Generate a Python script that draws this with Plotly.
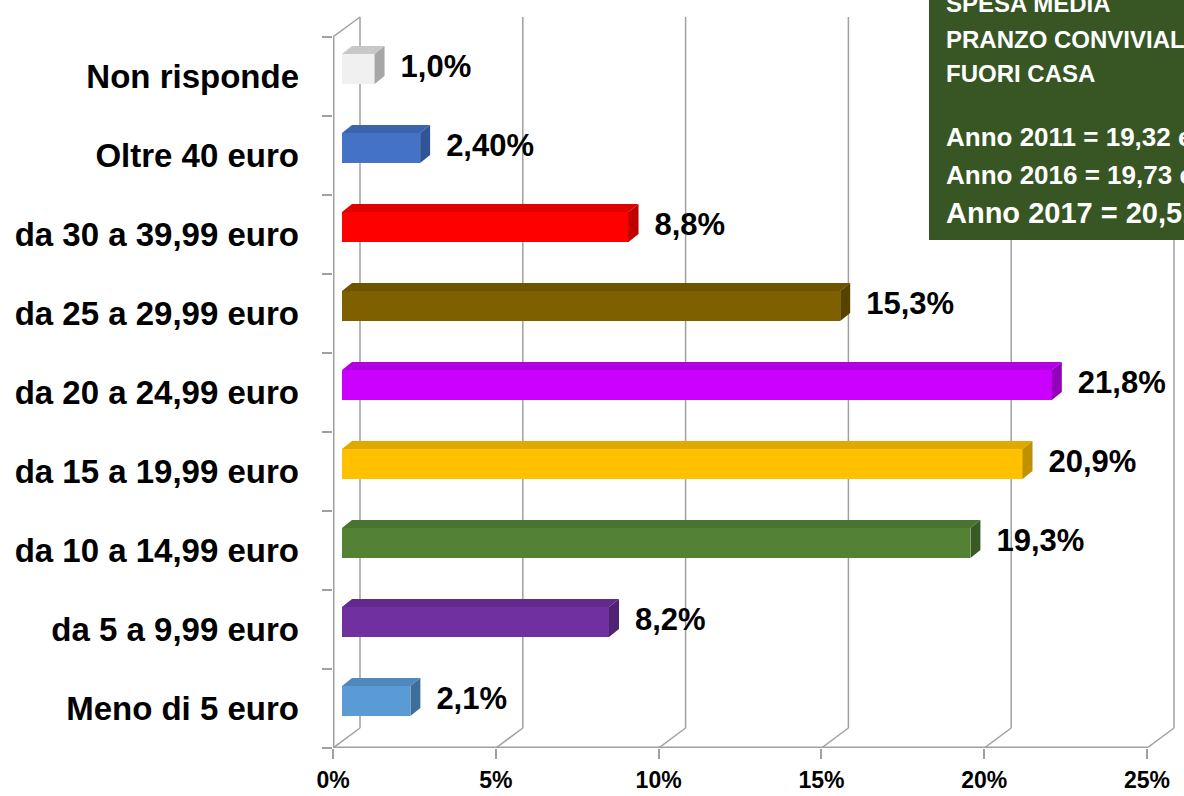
import plotly.graph_objects as go

# ---------------- data ----------------
categories = ["Meno di 5 euro", "da 5 a 9,99 euro", "da 10 a 14,99 euro",
              "da 15 a 19,99 euro", "da 20 a 24,99 euro", "da 25 a 29,99 euro",
              "da 30 a 39,99 euro", "Oltre 40 euro", "Non risponde"]
values = [2.1, 8.2, 19.3, 20.9, 21.8, 15.3, 8.8, 2.4, 1.0]
value_labels = ["2,1%", "8,2%", "19,3%", "20,9%", "21,8%", "15,3%", "8,8%", "2,40%", "1,0%"]
front_colors = ["#5B9BD5", "#7030A0", "#548235", "#FFC000", "#CC00FF",
                "#7F6000", "#FF0000", "#4472C4", "#F0F0F0"]
top_colors = ["#4F88BD", "#622A8C", "#4A732F", "#E0A900", "#B300E0",
              "#6E5300", "#E00000", "#3B64AD", "#C8C8C8"]
side_colors = ["#3E6E9A", "#4F2272", "#3A5A25", "#BF9000", "#9400BA",
               "#574200", "#C00000", "#2F5597", "#A6A6A6"]
x_ticks = [0, 5, 10, 15, 20, 25]
x_tick_labels = ["0%", "5%", "10%", "15%", "20%", "25%"]
box_title = ["SPESA MEDIA", "PRANZO CONVIVIALE", "FUORI CASA"]
box_years = ["Anno 2011 = 19,32 euro", "Anno 2016 = 19,73 euro", "Anno 2017 = 20,51 euro"]

# ---------------- geometry (pixels -> data units) ----------------
W, H = 1184, 796
ML, MR, MT, MB = 333, 0, 0, 48
PW, PH = W - ML - MR, H - MT - MB
PXU_X = 32.56          # pixels per percent
PXU_Y = 79.0           # pixels per category
x_range = [0, PW / PXU_X]
y_range = [-0.5, -0.5 + PH / PXU_Y]

wall_dx, wall_dy = 27 / PXU_X, 20 / PXU_Y       # depth of the 3D box
bar_x0 = 9 / PXU_X                               # bar front face start
bar_dy = 7.5 / PXU_Y                             # bar front face vertical shift
bar_w = 30 / PXU_Y                               # bar front face height
bar_ddx, bar_ddy = 10 / PXU_X, 8 / PXU_Y         # bar depth
label_gap = 16 / PXU_X

GRID = "#A0A0A0"
FONT = "Liberation Sans"

fig = go.Figure()

# walls: back gridlines, floor diagonals, left wall
shapes = []
y_bot, y_top = -0.5, len(categories) - 0.5
for t in x_ticks:
    shapes.append(dict(type="line", xref="x", yref="y", x0=t + wall_dx, x1=t + wall_dx,
                       y0=y_bot + wall_dy, y1=y_top + wall_dy,
                       line=dict(color=GRID, width=1.5), layer="below"))
    shapes.append(dict(type="line", xref="x", yref="y", x0=t, x1=t + wall_dx,
                       y0=y_bot, y1=y_bot + wall_dy,
                       line=dict(color=GRID, width=1.5), layer="below"))
shapes.append(dict(type="line", xref="x", yref="y", x0=0, x1=wall_dx,
                   y0=y_top, y1=y_top + wall_dy, line=dict(color=GRID, width=1.5), layer="below"))
shapes.append(dict(type="line", xref="x", yref="y", x0=0, x1=0,
                   y0=y_bot, y1=y_top, line=dict(color=GRID, width=3), layer="below"))
shapes.append(dict(type="line", xref="x", yref="y", x0=0, x1=x_ticks[-1],
                   y0=y_bot, y1=y_bot, line=dict(color=GRID, width=3), layer="below"))

# text box (top right)
def pxx(p):
    return (p - ML) / PW

def pxy(p):
    return (MT + PH - p) / PH

shapes.append(dict(type="rect", xref="paper", yref="paper", x0=pxx(929), x1=pxx(1200),
                   y0=pxy(240), y1=pxy(-10), fillcolor="#375623", line=dict(width=0),
                   layer="above"))

# front faces
ys = [i + bar_dy for i in range(len(categories))]
fig.add_trace(go.Bar(orientation="h", x=values, base=[bar_x0] * len(values), y=ys,
                     width=bar_w, marker=dict(color=front_colors, line=dict(width=0)),
                     hoverinfo="skip", showlegend=False))

# top and side faces
for v, y, tc, sc in zip(values, ys, top_colors, side_colors):
    x1 = bar_x0 + v
    yt, yb = y + bar_w / 2, y - bar_w / 2
    fig.add_trace(go.Scatter(
        x=[bar_x0, bar_x0 + bar_ddx, x1 + bar_ddx, x1, bar_x0],
        y=[yt, yt + bar_ddy, yt + bar_ddy, yt, yt],
        fill="toself", fillcolor=tc, mode="lines", line=dict(width=0),
        hoverinfo="skip", showlegend=False))
    fig.add_trace(go.Scatter(
        x=[x1, x1 + bar_ddx, x1 + bar_ddx, x1, x1],
        y=[yt, yt + bar_ddy, yb + bar_ddy, yb, yt],
        fill="toself", fillcolor=sc, mode="lines", line=dict(width=0),
        hoverinfo="skip", showlegend=False))

# value labels
fig.add_trace(go.Scatter(
    x=[bar_x0 + v + bar_ddx + label_gap for v in values], y=ys,
    mode="text", text=value_labels, textposition="middle right",
    textfont=dict(family=FONT, size=31, color="#000000", weight="bold"),
    hoverinfo="skip", showlegend=False, cliponaxis=False))

annotations = []
title_y = [3, 40, 74]
for txt, py in zip(box_title, title_y):
    annotations.append(dict(xref="paper", yref="paper", x=pxx(944), y=pxy(py),
                            xanchor="left", yanchor="middle", showarrow=False, text=txt,
                            font=dict(family=FONT, size=24, color="white", weight="bold")))
year_y = [137, 175, 213]
year_size = [26, 26, 29]
for txt, py, fs in zip(box_years, year_y, year_size):
    annotations.append(dict(xref="paper", yref="paper", x=pxx(944), y=pxy(py),
                            xanchor="left", yanchor="middle", showarrow=False, text=txt,
                            font=dict(family=FONT, size=fs, color="white", weight="bold")))

fig.update_layout(
    width=W, height=H,
    margin=dict(l=ML, r=MR, t=MT, b=MB),
    paper_bgcolor="white", plot_bgcolor="white",
    shapes=shapes, annotations=annotations,
    showlegend=False, bargap=0,
    xaxis=dict(range=x_range, tickmode="array", tickvals=x_ticks, ticktext=x_tick_labels,
               ticks="outside", ticklen=10, tickcolor=GRID, tickwidth=1.5,
               showgrid=False, zeroline=False, showline=False,
               tickfont=dict(family=FONT, size=23, color="#000000", weight="bold"),
               ticklabelstandoff=1, fixedrange=True),
    yaxis=dict(range=y_range, tickmode="array", tickvals=list(range(len(categories))),
               ticktext=categories, ticks="", showgrid=False, zeroline=False, showline=False,
               minor=dict(tickmode="array", tickvals=[i - 0.5 for i in range(len(categories) + 1)],
                          ticks="outside", ticklen=10, tickcolor=GRID, tickwidth=1.5),
               tickfont=dict(family=FONT, size=33, color="#000000", weight="bold"),
               ticklabelstandoff=33, fixedrange=True),
)

fig.write_html("out.html", config={"displayModeBar": False},
               post_script="document.body.style.margin='0';")
